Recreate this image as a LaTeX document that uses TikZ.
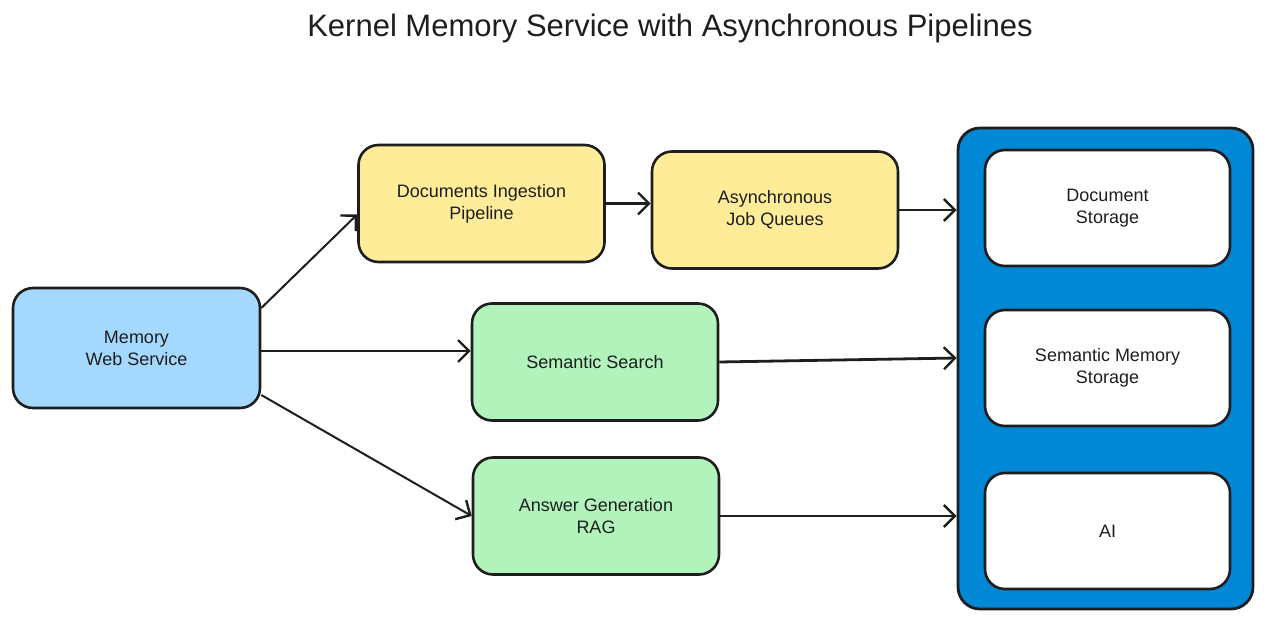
\documentclass[tikz,border=0pt]{standalone}
\usepackage{fontspec}
\setmainfont{Liberation Sans}
\usetikzlibrary{arrows.meta}
\definecolor{cblue}{HTML}{A5D8FF}
\definecolor{cyellow}{HTML}{FFEC99}
\definecolor{cgreen}{HTML}{B2F2BB}
\definecolor{cbig}{HTML}{0088D6}
\definecolor{cline}{HTML}{1E1E1E}
\tikzset{
  box/.style={draw=cline, line width=2.6pt, rounded corners=20pt, minimum width=246pt, minimum height=117pt, align=center, font=\fontsize{18}{22}\selectfont, text=cline},
  conn/.style={draw=cline, line width=2.8pt, -{Straight Barb[length=11pt,width=22pt,line width=2.4pt]}},
  thinconn/.style={conn, line width=2pt},
}
\begin{document}
\begin{tikzpicture}[x=1pt,y=-1pt]
\useasboundingbox (0,0) rectangle (1266,623);
\node[text=cline] (title) at (670,28) {\fontsize{31}{36}\selectfont Kernel Memory Service with Asynchronous Pipelines};
\node[box, fill=cblue, minimum width=247pt, minimum height=120pt] (mws) at (136.5,348) {Memory\\Web Service};
\node[box, fill=cyellow] (dip) at (481.5,203.5) {Documents Ingestion\\Pipeline};
\node[box, fill=cyellow] (ajq) at (775,210) {Asynchronous\\Job Queues};
\node[box, fill=cgreen] (ss) at (595,362) {Semantic Search};
\node[box, fill=cgreen] (ag) at (596,516) {Answer Generation\\RAG};
\node[draw=cline, line width=2.8pt, fill=cbig, rounded corners=22pt, minimum width=295pt, minimum height=481pt] (cont) at (1105.5,368.5) {};
\node[box, fill=white, minimum width=245pt, minimum height=116pt] (ds) at (1107.5,208) {Document\\Storage};
\node[box, fill=white, minimum width=245pt, minimum height=116pt] (sms) at (1107.5,368) {Semantic Memory\\Storage};
\node[box, fill=white, minimum width=245pt, minimum height=116pt] (ai) at (1107.5,531) {AI};
\draw[thinconn] ([yshift=40pt]mws.east) -- ([yshift=-11pt]dip.west);
\draw[conn] ([yshift=-3pt]mws.east) -- ([yshift=-3pt]mws.east -| ss.west);
\draw[thinconn] ([yshift=-47pt]mws.east) -- (ag.west);
\draw[conn] (dip.east) -- (dip.east -| ajq.west);
\draw[conn] (ajq.east) -- (ajq.east -| cont.west);
\draw[conn] (ss.east) -- ([yshift=4pt]ss.east -| cont.west);
\draw[thinconn] (ag.east) -- (ag.east -| cont.west);
\end{tikzpicture}
\end{document}
